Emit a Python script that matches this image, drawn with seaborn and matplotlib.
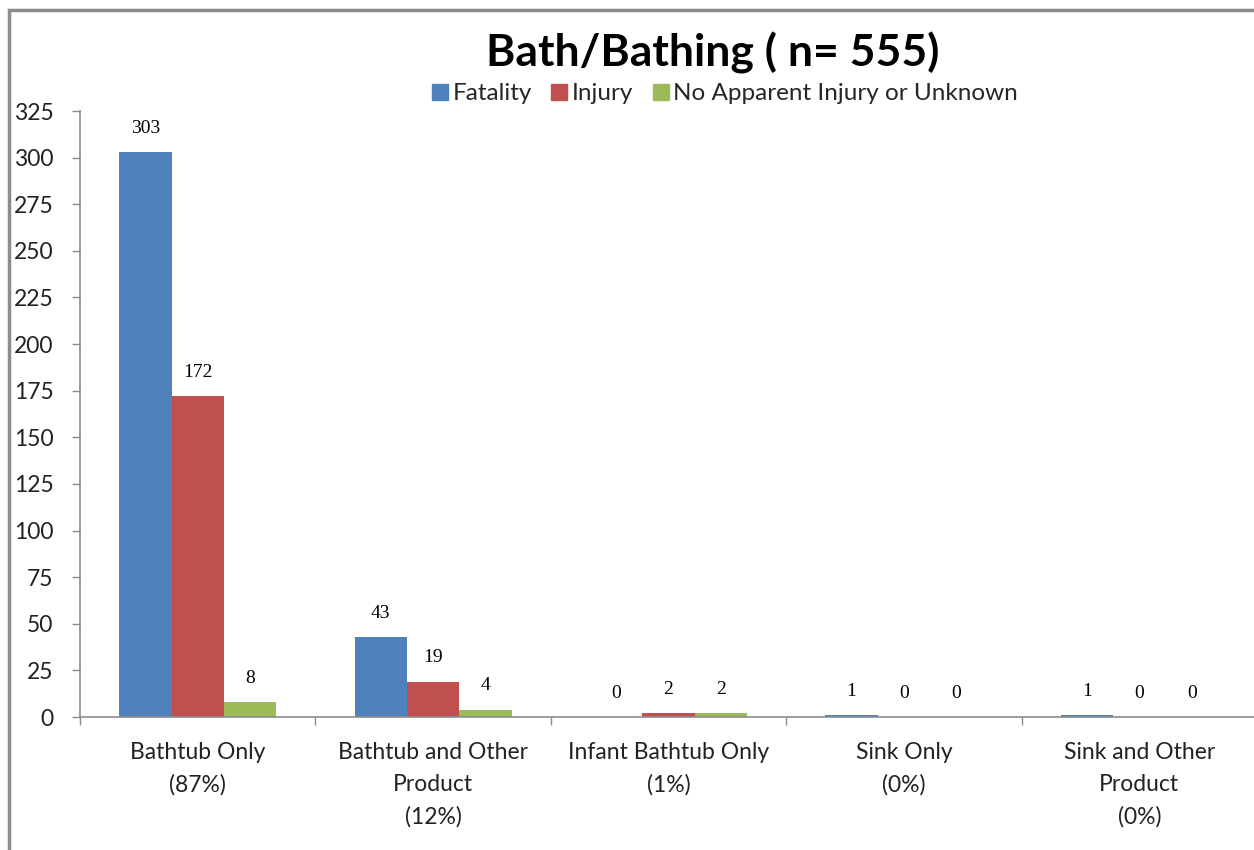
import matplotlib
matplotlib.use('Agg')
import matplotlib.pyplot as plt
import pandas as pd
import seaborn as sns
from matplotlib.patches import Rectangle
from matplotlib.ticker import FixedLocator, MultipleLocator

categories = ['Bathtub Only\n(87%)', 'Bathtub and Other\nProduct\n(12%)',
              'Infant Bathtub Only\n(1%)', 'Sink Only\n(0%)',
              'Sink and Other\nProduct\n(0%)']
series = ['Fatality', 'Injury', 'No Apparent Injury or Unknown']
fatality = [303, 43, 0, 1, 1]
injury = [172, 19, 2, 0, 0]
no_injury = [8, 4, 2, 0, 0]
colors = ['#4F81BD', '#C0504D', '#9BBB59']

rows = []
for name, vals in zip(series, [fatality, injury, no_injury]):
    for cat, v in zip(categories, vals):
        rows.append({'category': cat, 'outcome': name, 'count': v})
df = pd.DataFrame(rows)

sns.set_style('white')
plt.rcParams['font.family'] = ['Lato', 'DejaVu Sans']

fig = plt.figure(figsize=(12.54, 8.5), dpi=100)
ax = fig.add_axes([80 / 1254, 133 / 850, 1177 / 1254, 606 / 850])

sns.barplot(data=df, x='category', y='count', hue='outcome', hue_order=series,
            order=categories, palette=colors, width=0.667, gap=0, saturation=1,
            linewidth=0, ax=ax, legend=False)

# value labels
for container, vals in zip(ax.containers, [fatality, injury, no_injury]):
    for bar, v in zip(container, vals):
        ax.annotate(str(v), (bar.get_x() + bar.get_width() / 2, v),
                    xytext=(0, 17), textcoords='offset points',
                    ha='center', va='center', fontsize=14,
                    family='Liberation Serif', color='#000000')

ax.set_xlim(-0.5, 4.5)
ax.set_ylim(0, 325)
ax.yaxis.set_major_locator(MultipleLocator(25))
ax.xaxis.set_minor_locator(FixedLocator([i - 0.5 for i in range(6)]))

for s in ['top', 'right']:
    ax.spines[s].set_visible(False)
for s in ['left', 'bottom']:
    ax.spines[s].set_color('#8C8C8C')
    ax.spines[s].set_linewidth(1.2)

ax.tick_params(axis='y', which='major', direction='out', length=6, width=1,
               color='#8C8C8C', pad=13, labelsize=16.5, labelcolor='#222222', left=True)
ax.tick_params(axis='x', which='major', length=0, pad=18, labelsize=16.5, labelcolor='#222222')
ax.tick_params(axis='x', which='minor', direction='out', length=6, width=1,
               color='#8C8C8C', bottom=True)
for lab in ax.get_xticklabels():
    lab.set_linespacing(1.65)

ax.set_xlabel('')
ax.set_ylabel('')

handles = [Rectangle((0, 0), 1, 1, color=c) for c in colors]
fig.legend(handles, series, loc='center', bbox_to_anchor=(725 / 1254, 1 - 94 / 850),
           ncol=3, frameon=False, fontsize=17.5, handlelength=0.65, handleheight=0.65,
           handletextpad=0.2, columnspacing=0.8)

fig.text(713 / 1254, 1 - 53 / 850, 'Bath/Bathing ( n= 555)', ha='center', va='center',
         fontsize=32, fontweight='bold', color='black')

# outer frame of the chart
fig.add_artist(Rectangle((9 / 1254, -0.1), 1.5, 1 - 10 / 850 + 0.1, transform=fig.transFigure,
                         fill=False, edgecolor='#8C8C8C', linewidth=2.5))

fig.savefig('out.png', dpi=100)
